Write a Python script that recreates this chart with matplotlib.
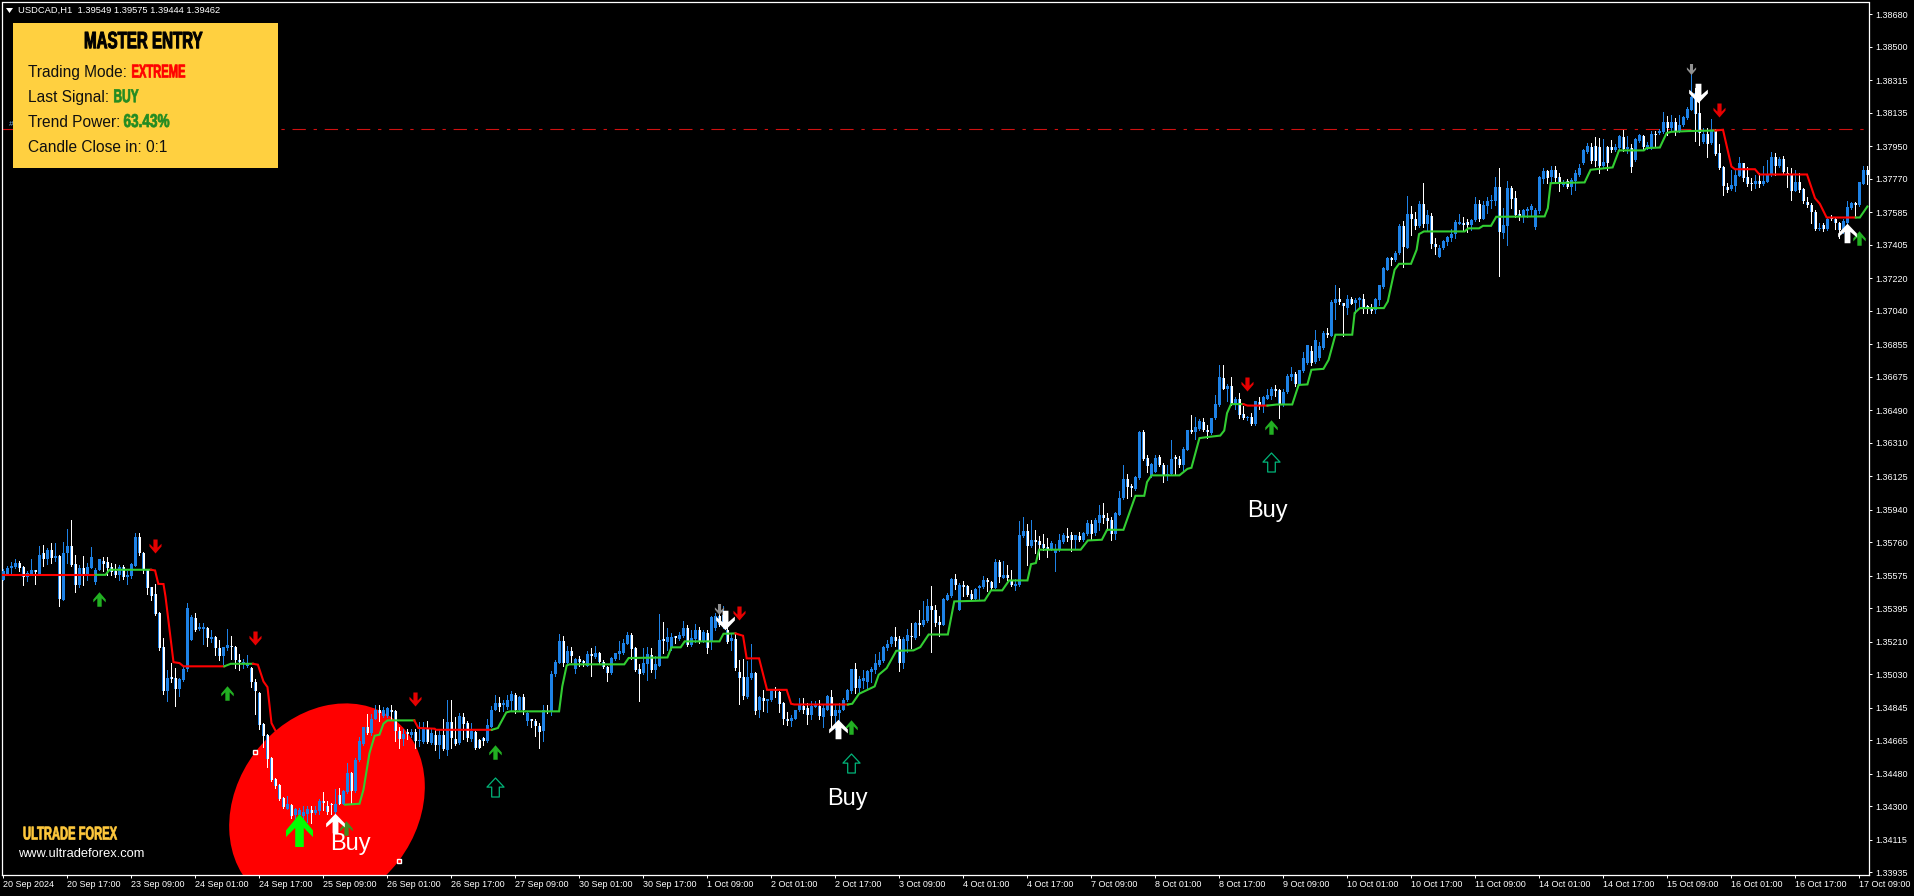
import numpy as np
import matplotlib
matplotlib.use("Agg")
import matplotlib.pyplot as plt
from matplotlib.patches import Ellipse, Rectangle, Polygon
from matplotlib.path import Path
from matplotlib.patheffects import AbstractPathEffect
from matplotlib.transforms import IdentityTransform, Affine2D

# All price arrays: pips above 1.3000 (544 means 1.3544)
opens = [
555,558.5,561.5,562.5,564.5,562.5,557,558.5,560,558.5,
570,567,572,567.5,568.5,544,570,574,564,552.5,
561.5,558,562,554,560.5,565.5,565,562.5,560,558,
562.5,557,557.5,563,579,570,560.5,551,547.5,537,
518,493.5,501.5,501,495,500,506,522,534,528,
528,528.5,522.5,523.5,517.5,513,517.5,518.5,518,511,
509,507.5,506.5,499,492.5,475.5,469.5,456.5,445,442,
434.5,428.5,430.5,425,425,424.5,426,428,426.5,427.5,
433,430,431,427,436,431.5,438,448.5,438.5,455.5,
464.5,474,470.5,478.5,483.5,480,480,483.5,482.5,471.5,
467,470.5,469.5,471,466,465.5,472.5,465,469.5,464,
469.5,461,476.5,467,465,479.5,476,467,471,466.5,
467.5,466,474,483.5,487,486,485,488.5,491.5,483.5,
490.5,477,478,477,474.5,471.5,482.5,482.5,503,509,
521.5,509,516,506,511.5,510,507.5,514,512.5,514.5,
510,507,503.5,511.5,514,514.5,519.5,524.5,517.5,506,
503.5,508.5,513.5,505.5,507.5,522,521,517.5,523.5,522.5,
524,528.5,519,522.5,527.5,521,526,521,528.5,535,
530.5,527.5,521.5,522.5,504,501.5,490.5,501,503.5,483,
490,488.5,489,494,493,487,478,477,478.5,483,
485.5,484.5,480.5,485,485.5,479.5,483.5,490.5,480,481.5,
483.5,489,494,506,495.5,499.5,498.5,504.5,505.5,508,
510.5,517.5,519.5,523.5,522.5,509,521.5,524,523,531.5,
530,532.5,541,538.5,532,530,544,546.5,555.5,538.5,
552.5,552,547.5,544.5,550.5,551.5,555,554,550.5,565,
556.5,558,555,552,552.5,579.5,582,574,577.5,576.5,
575,573.5,572,570,571.5,576,579.5,580,577.5,579.5,
577,580.5,586,581,586.5,591,589.5,588.5,580.5,591,
600.5,611,606.5,605.5,611.5,637,622.5,612.5,615,623,
619,613,613.5,622.5,622,619,627,638,637,638.5,
642.5,638,636.5,644.5,652,667,661,662.5,652,655,
647,644.5,645.5,641.5,653.5,652,655.5,657,661,660,
652,659,667.5,669,663.5,670.5,675,682,675.5,678,
683.5,692,690,708.5,710.5,708.5,705.5,710.5,708.5,710,
710.5,706.5,704.5,704.5,710,717,726.5,733,732,736,
751,739,757.5,754.5,751,763,752,756.5,741,733.5,
738.5,742,744.5,746.5,752,752.5,753,751.5,754,763,
754.5,762,764.5,765,772.5,747,751,772,766.5,757,
756,759,760,750.5,759,777,781.5,778,782,778,
773.5,776,772.5,776,779,785.5,792,794.5,795,794.5,
784,794.5,794.5,793,794,800,793.5,794,787.5,798,
800.5,794.5,794,802,802.5,803,808.5,805,808.5,803.5,
806.5,810.5,815,824.5,813.5,797.5,802,797,803.5,791,
783.5,772.5,771.5,773,778.5,785.5,778,774.5,774,776,
774,775.5,779,789,784,788,780,779,770.5,775,
771.5,764,762.5,758.5,749,751.5,749,756,754.5,752.5,
748.5,752.5,761,763,762.5,774,782]
highs = [
561,563,565,567,565.5,563,560,566.5,560,574,
574.5,573,575.5,575.5,569,576,583.5,588.5,569,563.5,
568.5,564.5,573.5,562,566.5,568,568,564.5,564,563.5,
563.5,560,564.5,581,581,570.5,561,551.5,553,537.5,
523,505.5,509,506.5,501,507,542.5,536,537,531.5,
531.5,529,527.5,524,522,518,528,524,518.5,514,
511.5,513.5,507,500.5,493,476,470,457.5,445.5,442.5,
435,435.5,431,429,429,430,430,430,430,434,
438,433,432,439.5,440,439,454,449,456.5,468.5,
474,481,481,486,486,485,485,486,483,474,
472.5,472.5,472.5,472.5,476.5,476.5,477,473,473,472.5,
478,489,489,479.5,481.5,481.5,477,476,471.5,467,
468.5,478,485.5,491.5,490.5,489,491.5,494,492.5,491,
492,482.5,478.5,478,476,486,486,505,511,525.5,
524,518.5,518,512,513,511,516,517.5,518.5,515.5,
511,507.5,512.5,515,521.5,522.5,526.5,526,518,508.5,
517.5,518,517.5,513,536.5,532,528.5,526,524,526.5,
532.5,530.5,527.5,531,529,527.5,527.5,535.5,537,539.5,
540.5,530.5,525.5,526,511,511.5,510.5,520,504,491,
494.5,489.5,495,496,494,487.5,482,480.5,483.5,490,
490,487,488,488,489,486,491.5,494.5,486,487,
490,495,506,509,502,505.5,505.5,507,514,515.5,
518.5,522,524,529,524,523.5,528,531.5,532,538.5,
543.5,544.5,552,541.5,535.5,545,548,556.5,558.5,553.5,
554.5,552.5,549.5,550.5,552.5,557.5,556,554.5,566.5,566,
565.5,563.5,560.5,555.5,587.5,590,586,588.5,583,579.5,
580.5,578.5,576.5,575,580.5,581,584,581.5,580,581.5,
581.5,588.5,588.5,589.5,596.5,597.5,592,590,592.5,604.5,
618.5,614,608.5,612.5,637.5,638,624,620,624,624,
620,618.5,632.5,624,623.5,628.5,638,646.5,645.5,644,
645,641,645,657.5,674,674,663.5,667.5,656.5,658.5,
651.5,646,647.5,654,656.5,657,661,662,663,660.5,
660.5,669,673,670,671.5,681.5,685,684.5,693.5,687,
693,694.5,710,718,716.5,708.5,712.5,711.5,711,711.5,
713.5,707,708,711,718.5,728,733.5,733.5,737,752,
753.5,767.5,762,758.5,764.5,774.5,759.5,758,744,740.5,
743,745.5,749.5,754,757.5,756,754.5,754.5,767,765.5,
764.5,767,768,778,783,761,776,773,770,760,
760.5,761.5,763,761,778.5,783,782,784,784,780,
776.5,777,777.5,782,785,793.5,797,797,800,799.5,
799,795,798.5,796,801.5,804,800.5,796.5,799.5,802,
801,797.5,803.5,803.5,804.5,814,811.5,812.5,810.5,812.5,
811.5,816.5,835.5,827,820.5,805,805,810,804.5,796.5,
784,774.5,782,782,789,786,783.5,777.5,779,780,
784,787.5,792,791,789,789.5,783.5,783,782,780,
772,767,763.5,760,752.5,752.5,756,757,755.5,753,
754.5,764.5,764,764,775.5,784,784]
lows = [
555,558,559,562,560,552.5,554.5,558,553,558,
563,564,564.5,565.5,540.5,544,564.5,563,548.5,551.5,
552.5,555,562,553,560.5,560,558,558,557,555,
555.5,553,556,563,569,559,547.5,544,536,516.5,
492,488.5,498.5,485.5,491,499.5,505,522,527,527.5,
520,518.5,521,513.5,511,508.5,516.5,511.5,506.5,505.5,
506.5,507,496,481,473,463,452,444,440,433.5,
429,428.5,423.5,421,421.5,421,421.5,421,426,426,
428,426,426,426,431,431,437.5,431.5,438,455,
464,470,469.5,478,477,479.5,479.5,478,466,462,
464,467,468.5,462,463.5,465,465,464.5,461,456.5,
461,458.5,462,464,464.5,467,466,466,461.5,462,
464,465.5,474,483,482.5,482.5,484,483.5,481.5,482.5,
481,475,474,469,462,466,481.5,480.5,502,509,
507.5,509,510,503.5,507.5,507.5,507.5,502,512,509.5,
506.5,499.5,503,511,511.5,514,519.5,511.5,505,488,
503,500,504.5,501,507.5,515,516.5,516.5,520.5,522,
523.5,518.5,518.5,521,520.5,521,514.5,517,527.5,529.5,
528.5,520.5,516.5,505.5,486.5,489.5,490,500.5,481,479.5,
482.5,482,488.5,490.5,482,475.5,475,474.5,478,482.5,
481.5,475.5,478,485,478.5,474,483.5,474,473,476,
483,488.5,492.5,492.5,492.5,495.5,495.5,499,503.5,507.5,
510,516.5,518.5,518.5,505,506.5,515.5,517.5,522.5,524.5,
529.5,532,515.5,529.5,524,530,544,546,550,538.5,
546.5,546.5,544,544,544,550.5,549,550,550.5,554,
556.5,555,552,549.5,552,579,563.5,573.5,570,567,
572,568,571.5,560,571,575.5,576.5,571,573,576.5,
576.5,580,577.5,580,583,586.5,583,577,578,591,
600,600.5,601.5,605,611,621.5,615,612,615,618,
609.5,610.5,613,614,617.5,616,627,636.5,633,638,
637.5,633.5,636,644,651.5,660.5,654,652,649.5,644.5,
644,643.5,641,641,649.5,648,655,655,657,645,
651.5,658.5,666,662.5,663,670,674.5,674,675,677,
683,689.5,690,699.5,708,690,702.5,708,703,705.5,
703,703,703,703,707,716.5,726.5,729.5,731.5,735.5,
728,738.5,746,749,750.5,750.5,748,739,735.5,733.5,
738,740.5,742.5,744.5,752,748,747.5,748.5,753.5,753.5,
754.5,758,761,762.5,723.5,744,740.5,761,756,754,
753,756,756.5,749.5,758,774.5,774.5,775.5,775.5,770.5,
773,772,768.5,771,778.5,785,791,785.5,784,780,
783,782,792,792.5,793.5,792.5,791,780.5,787,797.5,
793.5,793.5,793.5,795,802,802.5,801.5,804,801.5,803,
806,810,815,798,795.5,797,789,796.5,790,782.5,
768,769.5,771,770.5,778.5,776,773,771,772,772.5,
773.5,775,778.5,779,783.5,780,772.5,765.5,770,769.5,
763.5,761.5,752.5,748.5,748.5,748,748.5,754,749,744,
747,751.5,760.5,756,762,774,774]
closes = [
560,562,563,564.5,561.5,557,559,560.5,559.5,569,
567,572,567.5,568.5,544.5,570,574,563.5,552.5,561.5,
558,562.5,568,560.5,566.5,564,562,559.5,558,562.5,
557,558,564,579,570,560.5,550.5,546.5,536.5,517.5,
494,501,500.5,495,500.5,506,539.5,534.5,527.5,529,
529,523,523.5,517.5,513,518,519,518,511,510,
510,508.5,498.5,493.5,475,469,456,444.5,441,434,
429.5,431.5,424.5,428.5,428,427,428.5,426.5,428,433,
432,427,430.5,431,431.5,438.5,448.5,438.5,455.5,466,
474,470.5,478,483.5,481.5,483,484.5,482,471.5,467,
470,470,471,466,466.5,473,465.5,470.5,464,469.5,
461.5,476.5,467.5,464.5,480,475.5,468,471.5,462,462.5,
466,475,483.5,487,485,487,489,492,483.5,490.5,
483.5,481.5,477,474.5,471,483.5,482,503,510,521.5,
509,516,513,511.5,510,509.5,514,513,514.5,510,
507,503.5,512,514.5,516,520.5,524.5,517,505.5,503,
509,514,505.5,508.5,522,521.5,523.5,523.5,523,524.5,
528.5,519,523,527.5,521,526.5,517.5,534.5,535,530.5,
536,521,523,506.5,501,491,501.5,503.5,482.5,490.5,
488.5,489,494.5,493.5,486.5,478,477,479,483,486,
483.5,480.5,485.5,486,480,484.5,491,480,483,483.5,
489,494.5,506,495.5,500.5,501,505,506,509,511,
518,519.5,523.5,521.5,509,522.5,524.5,523.5,531.5,530,
533,541,538.5,531.5,530.5,544.5,547,555.5,552.5,552.5,
551.5,547,544.5,550,552,555,554,550.5,565,557,
558,556,552.5,553,580,582,574,577.5,576,574.5,
573,572,575.5,572,577,580,578.5,577.5,580,577,
581,586.5,580.5,588.5,591,589.5,588,580.5,592,600.5,
611,606.5,606,612,637,622,618,619.5,622.5,619,
613,613.5,622,622,619,627.5,638,637,639.5,643,
638,637,644.5,652.5,667.5,661,662.5,652.5,655,646.5,
645,645,641.5,654,652,656.5,657.5,661,659.5,652,
659,668,669,663.5,671,678,685,675,688,684.5,
692,690.5,709,710.5,709,706.5,710.5,708,710,710.5,
705.5,705.5,704,710.5,718,727.5,733,732,736,751,
739.5,757.5,754.5,751,763,752,757,741,739.5,738.5,
742.5,745,746.5,753,752.5,751.5,751.5,754,763,754.5,
762.5,764.5,765.5,772.5,747.5,751.5,772,766,757,756.5,
759.5,760.5,762,760,778,781.5,777.5,782,777.5,775,
775.5,772.5,776.5,780,783,793,795,787,787,784,
786.5,786,793,794.5,800.5,793.5,794.5,783.5,799,801.5,
794.5,795.5,802,801,803.5,808.5,805,808.5,803.5,807,
811,815.5,822,813,802.5,802,796.5,803.5,790.5,783,
773,771,773.5,779,785.5,777.5,774,774,776,774,
776,779,789,784,788,780.5,779,770.5,775.5,771,
764.5,762.5,758.5,749,749.5,749,754.5,755,752.5,748.5,
753.5,761.5,763.5,762.5,775,782,779]

# Trend line runs: bars and pips
r1_bars = [0,23]; r1_vals = [558,558]
g1_bars = [23,25.5,26.5,36.9]; g1_vals = [558,558,560.8,560.8]
r2_bars = [36.9,37.9,38.7,40,40.5,42.5,44,45,55.2]; r2_vals = [560.8,560.4,553,552.9,546,509.7,509.2,507.4,507.4]
g2_bars = [55.2,56.8,62.4]; g2_vals = [507.4,508.8,508.8]
r3_bars = [62.4,63.6,65,66,67,68]; r3_vals = [508.8,508.3,499,495.9,476,471.8]
g3_bars = [85.4,89,90,91.5,92.8,94,95,96,102.7]; g3_vals = [430.9,431.4,439.2,459.4,469,469.6,475.7,477.5,477.5]
r4_bars = [102.7,103.7,107.8,108.1,122.1]; r4_vals = [477.5,473.3,472.9,472.3,472.3]
g4_bars = [122.1,123.6,125.7,126.7,138.9,139.7,140.8,141.5,155.2,156.3,166,167,169.3,170.3,179,180,183]
g4_vals = [472.3,473.3,481.9,482.5,482.5,496.3,507.9,508.5,508.5,512,512.3,517.9,517.9,521.2,521.2,525.4,525.6]
r5_bars = [183,184.9,185.8,188.9,190.9,195.8,196.9,197.7,211.1]; r5_vals = [525.6,524.3,511.8,511.8,494.4,494.4,486.7,486.3,486.3]
g5_bars = [211.1,212.2,213.9,217.8,218.8,220.8,223.2,227.5,229.2,231.3,236.1,237.7,245.3,246.9,249.7,251.4,256,256.9,258.1,258.9,269.3,271.1,274.6,275.9,280,283,285.2,285.9,287,294,296,297,299,300.7,304.2,305.2,305.9,306.9,310]
g5_vals = [486.3,486.7,492.2,496.3,502.7,506.4,516,516.2,518,525,525,543.3,543.8,549.4,549.4,554.9,554.9,563.9,564.5,571.9,571.9,577,577.4,582.9,582.9,601.7,601.7,609.3,613,613,616.6,617.2,633.6,634.1,635,637.8,647.4,652.4,652.4]
r6_bars = [310,311,316]; r6_vals = [652.4,651.6,651.6]
g6_bars = [316,318.4,322.2,323.8,326,327,330,331.3,333,337.2,337.8,339.1,345.1,346.1,347.8,348.9,351.9,353.3,353.9,355.1,365.3,366.2,368.9,369.9,371.9,373.2,385.3,386.1,386.8,395.3,396.8,402.3,403.9,410.1,410.8,414.1,415.8,417,421.2,428]
g6_vals = [651.6,652.2,652.2,663,663.3,671.4,671.9,676.9,690.8,690.8,702.8,705.5,705.5,709.2,726.7,730,730,737.8,746.4,747.9,747.9,749.6,749.6,751,751,756,756.2,760.8,774.6,775,782,783.3,792.7,792.7,794,794.3,802.3,803,803.4,803.7]
r7_bars = [428,429.9,432,432.9,437.9,439,450.9,452.9,454.1,455.8,463.1]; r7_vals = [803.7,804.1,783.8,782.3,782.3,779.4,779.4,766.3,763.2,755.6,755.6]
g7_bars = [463.1,464.1,466]; g7_vals = [755.6,755.6,761.7]

# Signals: bar index and pips
sell_bars = [38,63,103,184,311,429]; sell_vals = [574.1,523.2,489.5,537,663.7,815.1]
buy_bars = [23.8,55.8,122.8,211.8,316.8,463.8]; buy_vals = [544.5,492.5,460.2,474,639.6,744.1]
buy_dark_bars = [85.7]; buy_dark_vals = [417.9]
hollow_bars = [122.9,211.9,316.9]; hollow_vals = [440.9,453.8,620.2]
white_up_bars = [82.8,208.7,460.9]; white_up_vals = [421,472.6,746.9]
white_dn_bars = [180.5,423.7]; white_dn_vals = [533,824.3]
gray_bars = [178.8,421.8]; gray_vals = [539.1,837.7]
big_bars = [73.8]; big_vals = [416.9]
buy_text_bars = [86.8,211,316]; buy_text_vals = [409.2,434,593.5]
anchor_bars = [63,99]; anchor_vals = [460,400]
level_price = 1.38046

y_ticks = [1.38680,1.38500,1.38315,1.38135,1.37950,1.37770,1.37585,1.37405,1.37220,1.37040,1.36855,1.36675,1.36490,1.36310,1.36125,1.35940,1.35760,1.35575,1.35395,1.35210,1.35030,1.34845,1.34665,1.34480,1.34300,1.34115,1.33935]
x_labels = ["20 Sep 2024","20 Sep 17:00","23 Sep 09:00","24 Sep 01:00","24 Sep 17:00","25 Sep 09:00","26 Sep 01:00","26 Sep 17:00","27 Sep 09:00","30 Sep 01:00","30 Sep 17:00","1 Oct 09:00","2 Oct 01:00","2 Oct 17:00","3 Oct 09:00","4 Oct 01:00","4 Oct 17:00","7 Oct 09:00","8 Oct 01:00","8 Oct 17:00","9 Oct 09:00","10 Oct 01:00","10 Oct 17:00","11 Oct 09:00","14 Oct 01:00","14 Oct 17:00","15 Oct 09:00","16 Oct 01:00","16 Oct 17:00","17 Oct 09:00"]

W, H = 1915, 896
BLUE = "#1E82E6"
SANS = ["Liberation Sans", "DejaVu Sans"]

def price(v):
    return 1.3 + np.asarray(v, dtype=float) * 1e-4

class Squeeze(AbstractPathEffect):
    """Condenses real text horizontally about its left edge (no condensed font is installed)."""
    def __init__(self, x0, sx, color, stroke=0.5):
        super().__init__()
        self.x0, self.sx, self.color, self.stroke = x0, sx, color, stroke
    def draw_path(self, renderer, gc, tpath, affine, rgbFace=None):
        a = affine + Affine2D().translate(-self.x0, 0).scale(self.sx, 1).translate(self.x0, 0)
        g = renderer.new_gc()
        g.copy_properties(gc)
        g.set_linewidth(self.stroke)
        g.set_foreground(self.color)
        renderer.draw_path(g, tpath, a, rgbFace)
        g.restore()

fig = plt.figure(figsize=(W/100, H/100), dpi=100, facecolor="black")
L, R, T, B = 2.5, 1869, 2.5, 875
ax = fig.add_axes([L/W, 1-B/H, (R-L)/W, (B-T)/H], facecolor="black")
ax.set_xlim(-0.25, 466.4)
ax.set_ylim(1.33920, 1.38745)
for s in ax.spines.values():
    s.set_color("white"); s.set_linewidth(0.9)

# Ellipse object
ell = Ellipse((327, H-806.5), 220, 180, angle=52.7, transform=IdentityTransform(), facecolor="#FF0000", edgecolor="none", zorder=1)
ax.add_patch(ell)
ax.plot(anchor_bars, price(anchor_vals), ls="none", marker="s", ms=3.4, mfc="#FF0000", mec="white", mew=1, zorder=6)

ax.axhline(level_price, color="#D01010", lw=0.8, ls=(0, (12, 7, 3, 7)), zorder=2)

# Candles
o, h, l, c = map(price, (opens, highs, lows, closes))
idx = np.arange(len(o))
up = c >= o
body_lo = np.minimum(o, c)
body_h = np.maximum(np.abs(c-o), 9e-5)
ax.vlines(idx[up], l[up], h[up], color=BLUE, lw=0.72, antialiased=False, zorder=3)
ax.vlines(idx[~up], l[~up], h[~up], color="white", lw=0.72, antialiased=False, zorder=3)
ax.bar(idx, body_h, bottom=body_lo, width=0.75, color=BLUE, lw=0, antialiased=False, zorder=3.2)
ax.bar(idx[~up]+0.125, body_h[~up], bottom=body_lo[~up], width=0.5, color="white", lw=0, antialiased=False, zorder=3.3)

# Trend line
for bars, vals, col in [(r1_bars,r1_vals,"r"),(g1_bars,g1_vals,"g"),(r2_bars,r2_vals,"r"),(g2_bars,g2_vals,"g"),
                        (r3_bars,r3_vals,"r"),(g3_bars,g3_vals,"g"),(r4_bars,r4_vals,"r"),(g4_bars,g4_vals,"g"),
                        (r5_bars,r5_vals,"r"),(g5_bars,g5_vals,"g"),(r6_bars,r6_vals,"r"),(g6_bars,g6_vals,"g"),
                        (r7_bars,r7_vals,"r"),(g7_bars,g7_vals,"g")]:
    ax.plot(bars, price(vals), color="#FF0000" if col == "r" else "#32CD32", lw=1.5, solid_joinstyle="miter", zorder=4)

def arrow_path(half_w, shaft, down=False):
    v = [(0,.5),(half_w,.0),(half_w,-.2),(shaft,.08),(shaft,-.5),(-shaft,-.5),(-shaft,.08),(-half_w,-.2),(-half_w,.0),(0,.5)]
    if down:
        v = [(x,-y) for x,y in v]
    return Path(v, closed=True)

hollow = Path([(0,.5),(.45,.02),(.2,.02),(.2,-.5),(-.2,-.5),(-.2,.02),(-.45,.02),(0,.5)], closed=True)

def marks(bars, vals, path, size_px, color, **kw):
    opts = dict(mew=0, mfc=color)
    opts.update(kw)
    ax.plot(bars, price(vals), ls="none", marker=path, ms=size_px*0.72, zorder=5, **opts)

marks(sell_bars, sell_vals, arrow_path(.43,.15,True), 14, "#E60000")
marks(buy_bars, buy_vals, arrow_path(.43,.15), 14.5, "#22B022")
marks(buy_dark_bars, buy_dark_vals, arrow_path(.43,.15), 14.5, "#3E8C1E")
marks(hollow_bars, hollow_vals, hollow, 19, "none", mec="#00B478", mew=0.9)
marks(gray_bars, gray_vals, arrow_path(.42,.14,True), 11, "#909090")
marks(white_up_bars, white_up_vals, arrow_path(.48,.15), 19.5, "white")
marks(white_dn_bars, white_dn_vals, arrow_path(.48,.15,True), 19.5, "white")
marks(big_bars, big_vals, arrow_path(.41,.13), 33, "#00FF00")

for b, v in zip(buy_text_bars, buy_text_vals):
    ax.text(b, price(v), "Buy", color="white", fontsize=17, family=SANS, ha="center", va="center", zorder=6)

# Axes ticks
ax.yaxis.tick_right()
ax.set_yticks(y_ticks, [f"{t:.5f}" for t in y_ticks], fontsize=6.5, family=SANS, color="white")
ax.set_xticks(np.arange(len(x_labels))*16, x_labels, fontsize=6.5, family=SANS, color="white", ha="left")
ax.tick_params(axis="y", colors="white", length=2.4, width=0.72, pad=2)
ax.tick_params(axis="x", colors="white", length=2.4, width=0.72, pad=1.2)

def ftext(x, y, s, **kw):
    kw.setdefault("va", "center"); kw.setdefault("zorder", 11)
    return fig.text(x/W, 1-y/H, s, **kw)

def narrow(x, y, s, size, sx, color, stroke=0.5):
    t = ftext(x, y, s, color=color, fontsize=size, family=SANS, weight="bold")
    t.set_path_effects([Squeeze(x, sx, color, stroke)])

# Header
fig.add_artist(Polygon([(6/W,1-8/H),(13/W,1-8/H),(9.5/W,1-13/H)], closed=True, transform=fig.transFigure, facecolor="white", edgecolor="none", zorder=9))
ftext(18, 10.5, "USDCAD,H1  1.39549 1.39575 1.39444 1.39462", color="white", fontsize=6.75, family=SANS)
ftext(9, 124, "#", color="#7FB8F0", fontsize=6, family=SANS, zorder=5)

# Panel
fig.add_artist(Rectangle((13/W, 1-167.7/H), 265/W, 144.7/H, transform=fig.transFigure, facecolor="#FFD040", edgecolor="none", zorder=10))
narrow(84, 41.7, "MASTER ENTRY", 17, 0.64, "black", 0.7)
ftext(28, 72.7, "Trading Mode:", color="#101010", fontsize=11.2, family=SANS)
narrow(131.5, 73, "EXTREME", 13.4, 0.6, "#FF0000")
ftext(28, 97.7, "Last Signal:", color="#101010", fontsize=11.2, family=SANS)
narrow(113.5, 97.7, "BUY", 13.4, 0.64, "#228B22")
ftext(28, 122.3, "Trend Power:", color="#101010", fontsize=11.2, family=SANS)
narrow(123.5, 122.5, "63.43%", 13.4, 0.73, "#228B22")
ftext(28, 147, "Candle Close in: 0:1", color="#101010", fontsize=11.2, family=SANS)

# Watermark
narrow(23, 835, "ULTRADE FOREX", 13.4, 0.6, "#FFC83C")
ftext(18, 854, "www.ultradeforex.com", color="white", fontsize=9.3, family=SANS)

fig.savefig("out.png", dpi=100, facecolor="black")
